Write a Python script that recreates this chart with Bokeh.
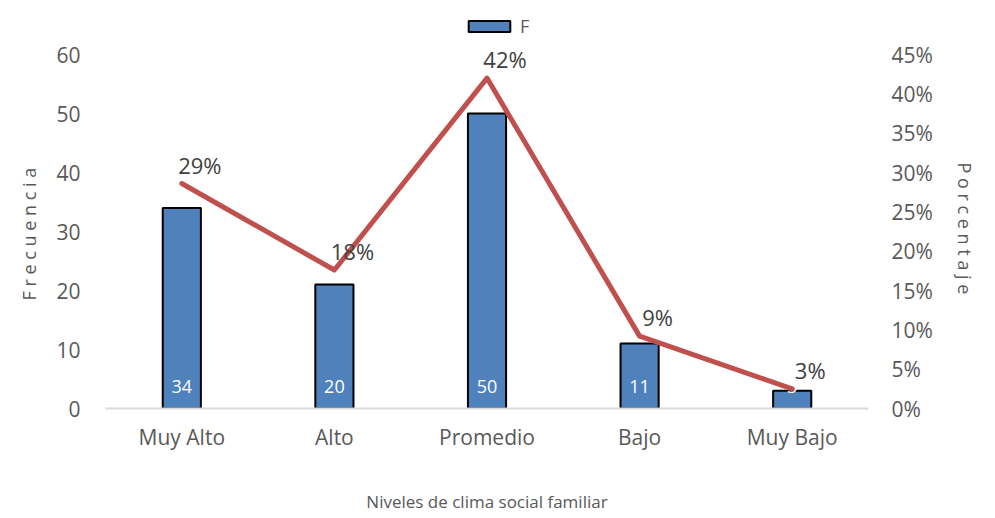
from bokeh.plotting import figure
from bokeh.models import (Range1d, LinearAxis, FixedTicker, NumeralTickFormatter,
                          Legend, LegendItem, ColumnDataSource, Title)
from bokeh.core.properties import value
from bokeh.embed import file_html
from bokeh.resources import INLINE

categories = ["Muy Alto", "Alto", "Promedio", "Bajo", "Muy Bajo"]
frecuencia = [34, 21, 50, 11, 3]
bar_labels = ["34", "20", "50", "11", "3"]
porcentaje = [0.286, 0.176, 0.420, 0.092, 0.025]
pct_labels = ["29%", "18%", "42%", "9%", "3%"]
left_ticks = [0, 10, 20, 30, 40, 50, 60]
right_ticks = [0, 0.05, 0.10, 0.15, 0.20, 0.25, 0.30, 0.35, 0.40, 0.45]

FONT = "Open Sans"
TICK_COLOR = "#595959"
LABEL_COLOR = "#404040"

# layout: axis area 354px tall for 0..60; frame extended upward to hold the legend
W, H = 995, 517
BORDER_L, BORDER_B = 105, 109
AXIS_H = 354
FRAME_H = 402
LEFT_MAX = 60
RIGHT_MAX = 0.45
ext = FRAME_H / AXIS_H

src = ColumnDataSource(dict(cat=categories, f=frecuencia, fl=bar_labels,
                            pct=porcentaje, pl=pct_labels))

p = figure(x_range=categories, y_range=Range1d(0, LEFT_MAX * ext), width=W, height=H,
           output_backend="svg", toolbar_location=None,
           min_border_left=BORDER_L, min_border_right=W - BORDER_L - 765,
           min_border_top=H - BORDER_B - FRAME_H, min_border_bottom=BORDER_B,
           background_fill_color="white", border_fill_color="white",
           outline_line_color=None)
p.extra_y_ranges = {"pct": Range1d(0, RIGHT_MAX * ext)}
p.xgrid.grid_line_color = None
p.ygrid.grid_line_color = None

def clean(ax):
    ax.axis_line_color = None
    ax.major_tick_line_color = None
    ax.minor_tick_line_color = None
    ax.major_tick_out = 0
    ax.major_tick_in = 0
    ax.minor_tick_out = 0
    ax.minor_tick_in = 0
    ax.major_label_text_font = FONT
    ax.major_label_text_font_size = "21px"
    ax.major_label_text_color = TICK_COLOR
    ax.axis_label_text_font = FONT
    ax.axis_label_text_font_size = "17px"
    ax.axis_label_text_font_style = "normal"
    ax.axis_label_text_color = TICK_COLOR

# left axis
ya = p.yaxis[0]
clean(ya)
ya.ticker = FixedTicker(ticks=left_ticks)
ya.major_label_standoff = 25

# right axis
ra = LinearAxis(y_range_name="pct", ticker=FixedTicker(ticks=right_ticks),
                formatter=NumeralTickFormatter(format="0%"))
clean(ra)
ra.major_label_standoff = 23
p.add_layout(ra, "right")

# axis titles (as side titles so they can be centred on the 0..60 area)
t_left = Title(text="F r e c u e n c i a", align="left", offset=108, standoff=26,
               text_font=FONT, text_font_size="18px", text_font_style="normal",
               text_color=TICK_COLOR)
p.add_layout(t_left, "left")
t_right = Title(text="P o r c e n t a j e", align="left", offset=156, standoff=34,
                text_font=FONT, text_font_size="18px", text_font_style="normal",
                text_color=TICK_COLOR)
p.add_layout(t_right, "right")

# x axis
xa = p.xaxis[0]
clean(xa)
xa.axis_line_color = "#d9d9d9"
xa.axis_line_width = 2
xa.major_label_standoff = 14
xa.axis_label = "Niveles de clima social familiar"
xa.axis_label_standoff = 36

bars = p.vbar(x="cat", top="f", width=0.25, source=src,
              fill_color="#4F81BD", line_color="black", line_width=2)

p.text(x="cat", y=0, text="fl", source=src, text_font=value(FONT),
       text_font_size="18px", text_color="white", text_align="center",
       text_baseline="middle", y_offset=-22)

p.line(x="cat", y="pct", source=src, y_range_name="pct", line_color="#C0504D",
       line_width=5, line_join="round", line_cap="round")

p.text(x="cat", y="pct", text="pl", source=src, y_range_name="pct",
       text_font=value(FONT), text_font_size="22px", text_color=LABEL_COLOR,
       text_align="center", text_baseline="middle", x_offset=18, y_offset=-19)

legend = Legend(items=[LegendItem(label="F", renderers=[bars])],
                location=(358, 370), orientation="horizontal",
                glyph_width=52, glyph_height=14, label_text_font=FONT,
                label_text_font_size="18px", label_text_color=TICK_COLOR,
                label_standoff=5, padding=5, margin=0, spacing=0,
                border_line_color=None, background_fill_alpha=0)
p.add_layout(legend, "center")

open("out.html", "w").write(file_html(p, INLINE))
